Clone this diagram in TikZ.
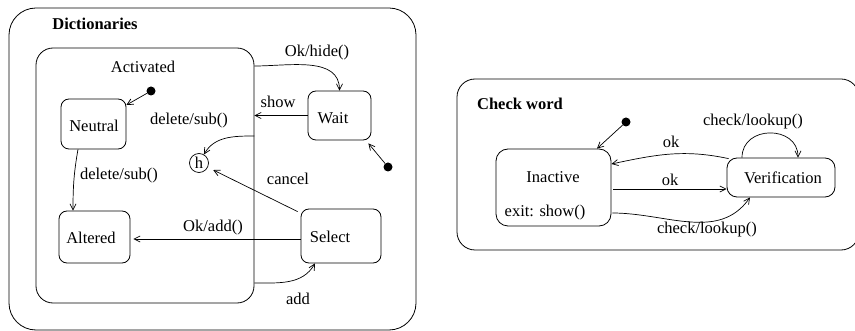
\documentclass[tikz,border=0pt]{standalone}
\usepackage{fontspec}
\setmainfont{Liberation Serif}
\usetikzlibrary{arrows.meta}
\begin{document}
\begin{tikzpicture}[x=1pt,y=1pt,
  font=\fontsize{16.5}{18}\selectfont,
  state/.style={draw, line width=0.8pt, rounded corners=8pt, inner sep=0pt},
  big/.style={draw, line width=0.8pt, inner sep=0pt},
  dot/.style={circle, fill=black, inner sep=0pt, minimum size=9pt},
  tr/.style={line width=0.7pt, -{Straight Barb[length=6pt,width=6pt]}},
  lbl/.style={inner sep=0pt, anchor=center}]
\useasboundingbox (0,0) rectangle (855,-331);
% containers
\node[big, rounded corners=27pt, minimum width=407pt, minimum height=322pt] (dict) at (212.5,-169) {};
\node[lbl, font=\fontsize{16.5}{18}\selectfont\bfseries] (dictt) at (95,-24) {Dictionaries};
\node[big, rounded corners=17pt, minimum width=218pt, minimum height=255pt] (act) at (145,-175.5) {};
\node[lbl] (actt) at (143,-67) {Activated};
% states
\node[state, minimum width=65pt, minimum height=50pt] (neutral) at (93.5,-124) {};
\node[lbl] (neutralt) at (94,-126) {Neutral};
\node[state, minimum width=71pt, minimum height=52pt] (altered) at (94.5,-237) {};
\node[lbl] (alteredt) at (91,-238) {Altered};
\node[draw, circle, line width=0.7pt, minimum size=19pt, inner sep=0pt] (h) at (199,-163) {h};
\node[state, minimum width=63pt, minimum height=49pt] (wait) at (339.5,-115.5) {};
\node[lbl] (waitt) at (333,-118) {Wait};
\node[state, minimum width=80pt, minimum height=54pt] (select) at (341,-236) {};
\node[lbl] (selectt) at (330,-237) {Select};
\node[dot] (d1) at (151,-91) {};
\node[dot] (d2) at (388,-167) {};
% transitions left
\draw[tr] (d1) -- (neutral.30);
\draw[tr] (d2) -- ([xshift=-3pt,yshift=-3pt]wait.south east);
\draw[tr] ([xshift=-15.5pt]neutral.south) to[out=-100,in=90] ([xshift=-21.5pt]altered.north);
\node[lbl] (l1) at (119,-176) {delete/sub()};
\draw[tr] ([yshift=39.5pt]act.east) to[out=180,in=60] (h.60);
\node[lbl] (l2) at (189,-121) {delete/sub()};
\draw[tr] (wait.west) -- (wait.west -| act.east);
\node[lbl] (l3) at (278,-102) {show};
\draw[tr] ([yshift=109.5pt]act.east) to[out=0,in=90] (wait.north);
\node[lbl] (l4) at (317,-53) {Ok/hide()};
\draw[tr, shorten >=6pt] ([xshift=-3pt,yshift=-3pt]select.north west) -- (h);
\node[lbl] (l5) at (288,-179) {cancel};
\draw[tr, shorten >=3pt] ([yshift=-3pt]select.west) -- ([yshift=-3pt]select.west -| altered.east);
\node[lbl] (l6) at (213,-228) {Ok/add()};
\draw[tr] ([yshift=-107.5pt]act.east) to[out=0,in=-120] ([xshift=-26pt]select.south);
\node[lbl] (l7) at (298,-299) {add};
% right part
\node[big, rounded corners=18pt, minimum width=402pt, minimum height=171pt] (check) at (658,-164.5) {};
\node[lbl, font=\fontsize{16.5}{18}\selectfont\bfseries] (checkt) at (520,-104) {Check word};
\node[state, rounded corners=12pt, minimum width=115pt, minimum height=77pt] (inactive) at (553.5,-187.5) {};
\node[lbl] (inactt) at (553,-177) {Inactive};
\node[lbl] (exitt) at (545,-213) {exit: show()};
\node[state, rounded corners=10pt, minimum width=108pt, minimum height=39pt] (verif) at (781,-177.5) {};
\node[lbl] (veriflbl) at (783,-178) {Verification};
\node[dot] (d3) at (626,-122) {};
\draw[tr] (d3) -- ([xshift=43.5pt]inactive.north);
\draw[tr] ([xshift=2pt,yshift=-1pt]verif.north west) to[out=168,in=12] ([yshift=23.5pt]inactive.east);
\node[lbl] (l8) at (671,-142) {ok};
\draw[tr] ([xshift=2pt,yshift=-1.5pt]inactive.east) -- ([yshift=-1.5pt]inactive.east -| verif.west);
\node[lbl] (l9) at (670,-180) {ok};
\draw[tr] ([xshift=1pt,yshift=-25.5pt]inactive.east) to[out=0,in=-125] ([xshift=-31pt]verif.south);
\node[lbl] (l10) at (707,-230) {check/lookup()};
\draw[tr] ([xshift=-39pt]verif.north) to[out=90,in=90,looseness=1.5] ([xshift=17pt]verif.north);
\node[lbl] (l11) at (753,-122) {check/lookup()};
\end{tikzpicture}
\end{document}
